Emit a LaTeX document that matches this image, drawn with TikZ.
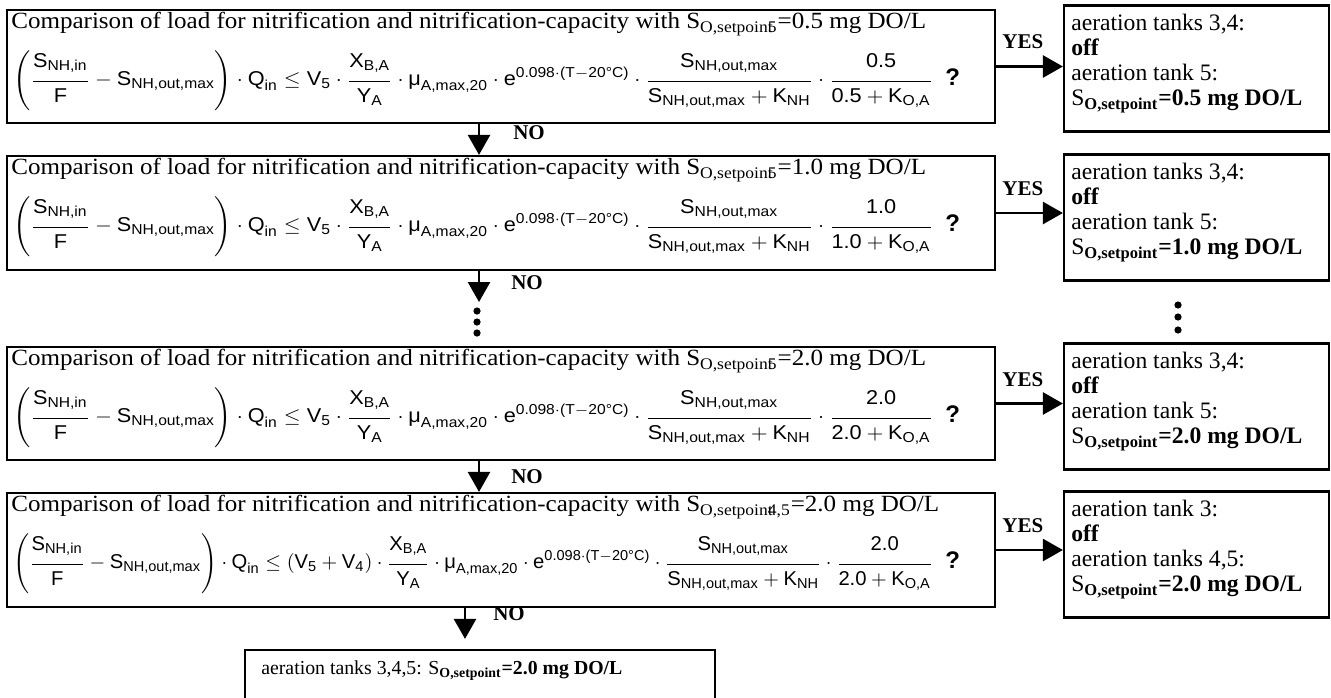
\documentclass[tikz,border=0pt]{standalone}
\usepackage{amsmath}
\usepackage{graphicx}
\usepackage{fontspec}
\setmainfont{Liberation Serif}
\setsansfont{Liberation Sans}
\newfontfamily\ttlfont{Liberation Serif}[FakeStretch=1.08]
\usetikzlibrary{arrows.meta,calc}
\DeclareMathSizes{10}{10}{7.2}{5.5}
\newcommand\sv[1]{\text{\sffamily #1}}
\newcommand\nst{\rule[-5.5pt]{0pt}{5.5pt}}
\newcommand\dst{\rule{0pt}{9.5pt}}
\newcommand\cmpform[2]{%
\resizebox{460pt}{\height}{$\displaystyle\left(\frac{\sv{S}_{\sv{NH,in}}\nst}{\sv{F}\dst}-\sv{S}_{\sv{NH,out,max}}\right)\cdot\sv{Q}_{\sv{in}}\le #2\cdot\frac{\sv{X}_{\sv{B,A}}\nst}{\sv{Y}_{\sv{A}}\dst}\cdot\sv{μ}_{\sv{A,max,20}}\cdot\sv{e}^{\sv{0.098}\cdot\sv{(T}-\sv{20°C)}}\cdot\frac{\sv{S}_{\sv{NH,out,max}}\nst}{\sv{S}_{\sv{NH,out,max}}+\sv{K}_{\sv{NH}}\dst}\cdot\frac{\sv{#1}\nst}{\sv{#1}+\sv{K}_{\sv{O,A}}\dst}$}\hspace{6pt}\textsf{\bfseries\large ?}}
\newcommand\ttl[2]{Comparison of load for nitrification and nitrification-capacity with $\text{S}_{\text{O,#1}}$=#2 mg DO/L}
\newcommand\rbtxt[3]{#1:\\\textbf{off}\\#2:\\$\text{S}_{\textbf{O,setpoint}}$\textbf{=#3 mg DO/L}}
\begin{document}
\begin{tikzpicture}[x=0.5pt,y=-0.5pt,
  lbox/.style={draw,line width=1.1pt,minimum width=494pt,inner sep=0pt},
  rbox/.style={draw,line width=1.1pt,minimum width=132.5pt,minimum height=63pt,inner sep=0pt},
  ttltxt/.style={anchor=base west,inner sep=0pt,font=\ttlfont\fontsize{11.6}{14}\selectfont},
  frmtxt/.style={anchor=base west,inner sep=0pt,font=\fontsize{10}{12}\selectfont},
  rbtext/.style={anchor=north west,inner sep=0pt,align=left,font=\fontsize{11.8}{12.6}\selectfont},
  lbl/.style={inner sep=0pt,font=\fontsize{10.5}{12}\selectfont\bfseries},
  arr/.style={line width=1.3pt,-{Triangle[length=10pt,width=11pt]}},
  dotn/.style={circle,fill,inner sep=0pt,minimum size=3.6pt}]
\useasboundingbox (0,0) rectangle (1331,697);
% left comparison boxes
\node[lbox,minimum height=56.5pt] (c1) at (501,66.5) {};
\node[lbox,minimum height=57pt] (c2) at (501,213) {};
\node[lbox,minimum height=56.5pt] (c3) at (501,403.5) {};
\node[lbox,minimum height=57pt] (c4) at (501,550) {};
% right result boxes
\node[rbox] (r1) at (1196.5,68.5) {};
\node[rbox] (r2) at (1196.5,217.5) {};
\node[rbox] (r3) at (1196.5,406.5) {};
\node[rbox] (r4) at (1196.5,554.5) {};
% bottom box
\node[draw,line width=1.1pt,minimum width=235pt,minimum height=26pt,inner sep=0pt] (bt) at (480,676) {};
% titles
\node[ttltxt] (t1) at ($(c1.north west)+(5,20)$) {\ttl{setpoin\rlap{t}5}{0.5}};
\node[ttltxt] (t2) at ($(c2.north west)+(5,20)$) {\ttl{setpoin\rlap{t}5}{1.0}};
\node[ttltxt] (t3) at ($(c3.north west)+(5,20)$) {\ttl{setpoin\rlap{t}5}{2.0}};
\node[ttltxt] (t4) at ($(c4.north west)+(5,20)$) {\ttl{setpoin\rlap{t}4,5}{2.0}};
% formulas
\node[frmtxt] (f1) at ($(c1.north west)+(7,77)$) {\cmpform{0.5}{\sv{V}_{\sv{5}}}};
\node[frmtxt] (f2) at ($(c2.north west)+(7,77)$) {\cmpform{1.0}{\sv{V}_{\sv{5}}}};
\node[frmtxt] (f3) at ($(c3.north west)+(7,77)$) {\cmpform{2.0}{\sv{V}_{\sv{5}}}};
\node[frmtxt] (f4) at ($(c4.north west)+(7,77)$) {\cmpform{2.0}{(\sv{V}_{\sv{5}}+\sv{V}_{\sv{4}})}};
% right texts
\node[rbtext] (q1) at ($(r1.north west)+(8,9)$) {\rbtxt{aeration tanks 3,4}{aeration tank 5}{0.5}};
\node[rbtext] (q2) at ($(r2.north west)+(8,9)$) {\rbtxt{aeration tanks 3,4}{aeration tank 5}{1.0}};
\node[rbtext] (q3) at ($(r3.north west)+(8,9)$) {\rbtxt{aeration tanks 3,4}{aeration tank 5}{2.0}};
\node[rbtext] (q4) at ($(r4.north west)+(8,9)$) {\rbtxt{aeration tank 3}{aeration tanks 4,5}{2.0}};
\node[anchor=west,inner sep=0pt,font=\fontsize{9.9}{12}\selectfont] (bq) at ($(bt.west)+(17,-5)$)
  {aeration tanks 3,4,5: $\text{S}_{\textbf{O,setpoint}}$\textbf{=2.0 mg DO/L}};
% YES arrows
\foreach \i in {1,2,3,4}{
  \draw[arr] (c\i.east) -- (c\i.east -| r\i.west) node[lbl,pos=0.4,above=8pt] (y\i) {YES};
}
% NO arrows
\coordinate (ax) at (479,0);
\coordinate (ax4) at (465,0);
\coordinate (d2) at (479,302);
\draw[arr] (c1.south -| ax) -- (c2.north -| ax);
\draw[arr] (c2.south -| ax) -- (d2);
\draw[arr] (c3.south -| ax) -- (c4.north -| ax);
\draw[arr,shorten >=5pt] (c4.south -| ax4) -- (ax4 |- bt.north);
\node[lbl] (n1) at (529,133) {NO};
\node[lbl] (n2) at (527,283) {NO};
\node[lbl] (n3) at (527,477) {NO};
\node[lbl] (n4) at (509,614) {NO};
% continuation dots
\node[dotn] (dl1) at (477,311) {};
\node[dotn] (dl2) at (477,322) {};
\node[dotn] (dl3) at (477,333) {};
\node[dotn] (dr1) at (1178,305) {};
\node[dotn] (dr2) at (1178,317) {};
\node[dotn] (dr3) at (1178,330) {};
\end{tikzpicture}
\end{document}
